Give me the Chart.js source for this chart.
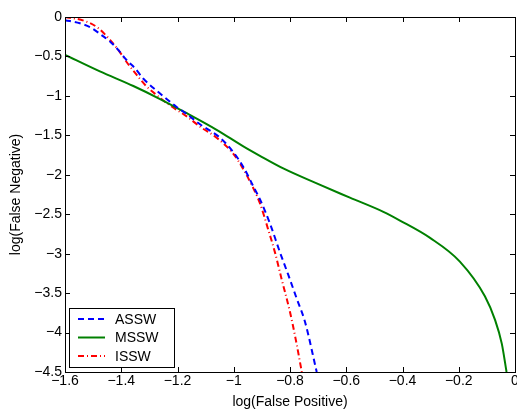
<!DOCTYPE html>
<html>
<head>
<meta charset="utf-8">
<script src="https://cdn.jsdelivr.net/npm/chart.js@4.4.1/dist/chart.umd.min.js"></script>
<style>
html,body{margin:0;padding:0;background:#fff;}
#wrap{width:517px;height:414px;}
</style>
</head>
<body>
<div id="wrap"><canvas id="c" width="517" height="414"></canvas></div>
<script>
const xTicks = [-1.6, -1.4, -1.2, -1.0, -0.8, -0.6, -0.4, -0.2, 0];
const yTicks = [0, -0.5, -1, -1.5, -2, -2.5, -3, -3.5, -4, -4.5];

const asswX = [-1.6, -1.547, -1.505, -1.47, -1.44, -1.41, -1.381, -1.351, -1.322, -1.262, -1.203, -1.167, -1.12, -1.049, -1.0, -0.966, -0.93, -0.907, -0.871, -0.836, -0.806, -0.776, -0.747, -0.705];
const asswY = [-0.04, -0.08, -0.14, -0.23, -0.31, -0.42, -0.545, -0.65, -0.78, -0.97, -1.14, -1.23, -1.36, -1.53, -1.72, -1.90, -2.15, -2.31, -2.62, -2.98, -3.27, -3.57, -3.86, -4.50];

const msswX = [-1.6, -1.476, -1.357, -1.262, -1.167, -1.061, -0.966, -0.907, -0.824, -0.705, -0.587, -0.468, -0.409, -0.302, -0.196, -0.107, -0.071, -0.047, -0.03];
const msswY = [-0.48, -0.69, -0.875, -1.04, -1.22, -1.43, -1.64, -1.76, -1.92, -2.11, -2.29, -2.47, -2.58, -2.80, -3.10, -3.54, -3.84, -4.14, -4.50];

const isswX = [-1.6, -1.53, -1.482, -1.44, -1.41, -1.381, -1.345, -1.31, -1.274, -1.227, -1.167, -1.12, -1.061, -1.0, -0.966, -0.936, -0.907, -0.877, -0.853, -0.83, -0.8, -0.78, -0.758];
const isswY = [0.0, -0.05, -0.14, -0.29, -0.42, -0.57, -0.735, -0.88, -0.99, -1.12, -1.26, -1.39, -1.53, -1.74, -1.93, -2.13, -2.36, -2.70, -2.99, -3.32, -3.74, -4.08, -4.50];

const seriesNames = ['ASSW', 'MSSW', 'ISSW'];

function pts(xs, ys){ return xs.map((x,i)=>({x:x, y:ys[i]})); }
function fmt(v){
  if (Math.abs(v) < 1e-9) return '0';
  let s = String(Math.round(v*10)/10);
  return s.replace('-', '\u2212');
}

const FONT = 'Liberation Sans, Arial, Helvetica, sans-serif';

const frameTicks = {
  id: 'frameTicks',
  afterDraw(chart){
    const {ctx, chartArea:a, scales:{x, y}} = chart;
    ctx.save();
    ctx.strokeStyle = '#000';
    ctx.lineWidth = 1;
    ctx.beginPath();
    xTicks.forEach(v=>{
      const px = Math.round(x.getPixelForValue(v)) + 0.5;
      ctx.moveTo(px, a.bottom); ctx.lineTo(px, a.bottom - 5);
      ctx.moveTo(px, a.top); ctx.lineTo(px, a.top + 5);
    });
    yTicks.forEach(v=>{
      const py = Math.round(y.getPixelForValue(v)) + 0.5;
      ctx.moveTo(a.left, py); ctx.lineTo(a.left + 5, py);
      ctx.moveTo(a.right, py); ctx.lineTo(a.right - 5, py);
    });
    ctx.stroke();
    ctx.strokeRect(Math.round(a.left)+0.5, Math.round(a.top)+0.5, Math.round(a.right-a.left), Math.round(a.bottom-a.top));
    // legend box
    const lx = a.left + 4, ly = a.bottom - 64, lw = 105, lh = 59;
    ctx.fillStyle = '#fff';
    ctx.fillRect(lx, ly, lw, lh);
    ctx.lineWidth = 1;
    ctx.strokeRect(Math.round(lx)+0.5, Math.round(ly)+0.5, lw, lh);
    ctx.font = '14px ' + FONT;
    ctx.textBaseline = 'middle';
    chart.data.datasets.forEach((ds, i)=>{
      const cy = ly + 11 + i*18.5;
      ctx.beginPath();
      ctx.strokeStyle = ds.borderColor;
      ctx.lineWidth = ds.borderWidth;
      ctx.setLineDash(ds.borderDash || []);
      ctx.moveTo(lx + 9, cy); ctx.lineTo(lx + 36, cy);
      ctx.stroke();
      ctx.setLineDash([]);
      ctx.fillStyle = '#000';
      ctx.fillText(ds.label, lx + 46, cy + 1);
    });
    ctx.restore();
  }
};

const lineOpts = {showLine: true, borderWidth: 2, pointRadius: 0, cubicInterpolationMode: 'monotone'};

new Chart(document.getElementById('c'), {
  type: 'scatter',
  data: {
    datasets: [
      Object.assign({label: seriesNames[0], data: pts(asswX, asswY), borderColor: '#0000ff', borderDash: [6,4]}, lineOpts),
      Object.assign({label: seriesNames[1], data: pts(msswX, msswY), borderColor: '#008000'}, lineOpts),
      Object.assign({label: seriesNames[2], data: pts(isswX, isswY), borderColor: '#ff0000', borderDash: [6,3,1,3]}, lineOpts)
    ]
  },
  options: {
    responsive: false,
    animation: false,
    layout: {padding: {top: 17, right: 2, left: 0, bottom: 0}},
    plugins: {legend: {display: false}, tooltip: {enabled: false}},
    scales: {
      x: {
        type: 'linear', min: -1.6, max: 0,
        afterBuildTicks(s){ s.ticks = xTicks.map(v=>({value:v})); },
        afterFit(s){ s.height = 42; s.paddingLeft = 0; s.paddingRight = 0; },
        grid: {display: false, drawTicks: false},
        border: {display: false},
        ticks: {color: '#000', font: {size: 14, family: FONT}, padding: 1, maxRotation: 0, autoSkip: false, callback: v=>fmt(v)},
        title: {display: true, text: 'log(False Positive)', color: '#000', font: {size: 14, family: FONT}, padding: {top: 0, bottom: 3}}
      },
      y: {
        type: 'linear', min: -4.5, max: 0,
        afterBuildTicks(s){ s.ticks = yTicks.map(v=>({value:v})); },
        afterFit(s){ s.width = 65; s.paddingTop = 0; s.paddingBottom = 0; },
        grid: {display: false, drawTicks: false},
        border: {display: false},
        ticks: {color: '#000', font: {size: 14, family: FONT}, padding: 3, autoSkip: false, callback: v=>fmt(v)},
        title: {display: true, text: 'log(False Negative)', color: '#000', font: {size: 14, family: FONT}, padding: {top: 8, bottom: 4}}
      }
    }
  },
  plugins: [frameTicks]
});
</script>
</body>
</html>
